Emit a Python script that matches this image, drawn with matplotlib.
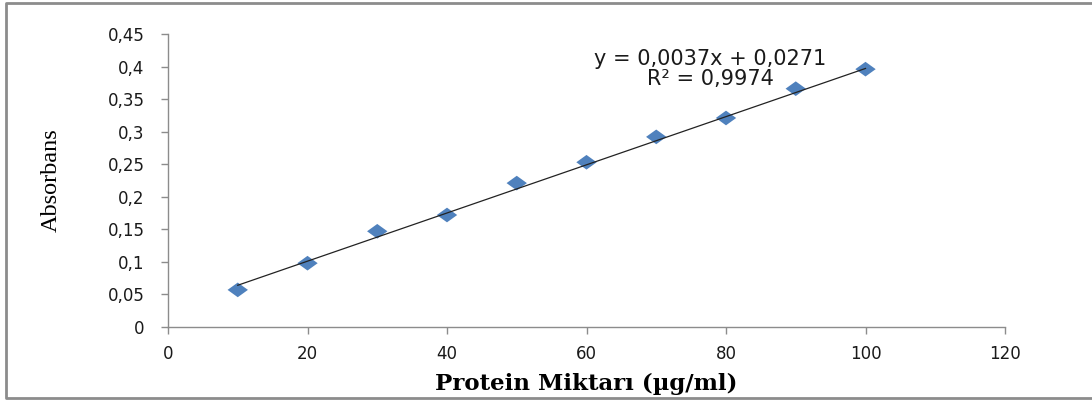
import matplotlib
matplotlib.use("Agg")
import matplotlib.pyplot as plt
from matplotlib.lines import Line2D
from matplotlib.path import Path
import numpy as np

# Data
protein = [10, 20, 30, 40, 50, 60, 70, 80, 90, 100]
absorbance = [0.057, 0.098, 0.147, 0.172, 0.221, 0.253, 0.292, 0.321, 0.366, 0.396]
slope = 0.0037
intercept = 0.0271
r2_text = "R² = 0,9974"
eq_text = "y = 0,0037x + 0,0271"
x_ticks = [0, 20, 40, 60, 80, 100, 120]
y_ticks = [0, 0.05, 0.1, 0.15, 0.2, 0.25, 0.3, 0.35, 0.4, 0.45]
y_tick_labels = ["0", "0,05", "0,1", "0,15", "0,2", "0,25", "0,3", "0,35", "0,4", "0,45"]
x_label = "Protein Miktarı (µg/ml)"
y_label = "Absorbans"

W, H = 1092, 401
fig = plt.figure(figsize=(W / 100, H / 100), dpi=100)
ax = fig.add_axes([168 / W, 1 - 327 / H, (1005 - 168) / W, (327 - 34) / H])

# Figure border (top, left, bottom; right edge cut off)
border = dict(transform=fig.transFigure, color="#8c8c8c", linewidth=2)
fig.lines.append(Line2D([1.0, 6 / W, 6 / W, 1.0],
                        [1 - 3 / H, 1 - 3 / H, 1 - 398 / H, 1 - 398 / H], **border))

# Flattened diamond marker
diamond = Path([(0, 0.72), (1, 0), (0, -0.72), (-1, 0), (0, 0.72)],
               [Path.MOVETO, Path.LINETO, Path.LINETO, Path.LINETO, Path.CLOSEPOLY])

ax.scatter(protein, absorbance, marker=diamond, s=215, color="#4F81BD",
           edgecolors="none", zorder=2)
xs = np.array([protein[0], protein[-1]])
ax.plot(xs, slope * xs + intercept, color="#222222", linewidth=0.9, zorder=3)

ax.set_xlim(0, 120)
ax.set_ylim(0, 0.45)
ax.set_xticks(x_ticks)
ax.set_yticks(y_ticks)
ax.set_yticklabels(y_tick_labels)

for side in ["top", "right"]:
    ax.spines[side].set_visible(False)
for side in ["left", "bottom"]:
    ax.spines[side].set_color("#8c8c8c")
    ax.spines[side].set_linewidth(1.0)
ax.tick_params(axis="both", colors="#8c8c8c", length=5, width=1, direction="out",
               labelcolor="#1a1a1a", labelsize=12)
ax.tick_params(axis="y", pad=12)
ax.tick_params(axis="x", pad=8)

ax.set_xlabel(x_label, family="DejaVu Serif", fontweight="bold", fontsize=16.5,
              labelpad=7, color="black")
ax.set_ylabel(y_label, family="Liberation Serif", fontsize=17.5, labelpad=33,
              color="black")

ax.text(77.7, 0.397, eq_text + "\n" + r2_text, ha="center", va="center",
        fontsize=15, color="#1a1a1a", linespacing=1.0)

fig.savefig("out.png", dpi=100)
